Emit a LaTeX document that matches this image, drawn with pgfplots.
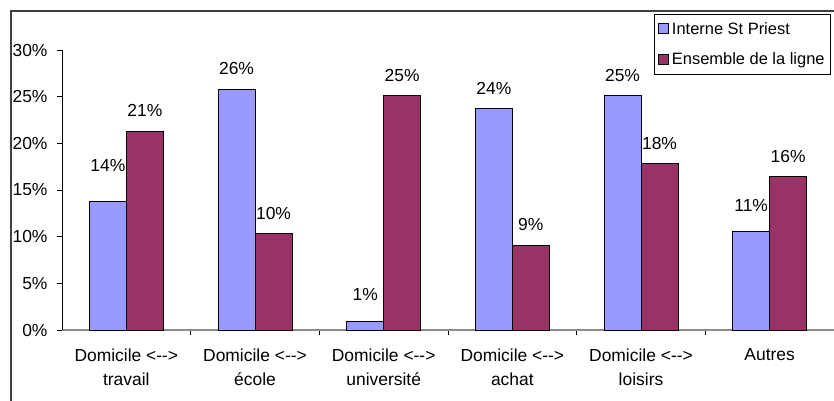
\documentclass[border=0pt]{standalone}
\usepackage{pgfplots}
\pgfplotsset{compat=1.18}
\usepackage{pgfplotstable}
\usepackage{fontspec}
\setmainfont{Liberation Sans}
\definecolor{interne}{RGB}{153,153,255}
\definecolor{ensemble}{RGB}{153,51,102}

% x = categorie, y = part (%), s = decalage de l'etiquette (bp)
\pgfplotstableread{
x y s
0 13.8 29
1 25.8 14
2 0.86 21
3 23.7 14
4 25.1 14
5 10.6 19
}\interne
\pgfplotstableread{
x y s
0 21.3 14
1 10.3 14
2 25.1 14
3 9.1 14
4 17.8 14
5 16.4 14
}\ensemble

\begin{document}
\begin{tikzpicture}[x=1bp,y=1bp]
\useasboundingbox (0,0) rectangle (834,400);
\draw[line width=1.3bp, black!75] (11,-5) -- (11,389) -- (845,389);
\begin{axis}[
  at={(62bp,70bp)}, anchor=south west,
  scale only axis, width=772bp, height=280bp,
  xmin=-0.5, xmax=5.5, ymin=0, ymax=30,
  ybar=0pt, bar width=37bp,
  axis lines=left,
  axis line style={-},
  x axis line style={draw=gray!90, line width=1.2bp},
  y axis line style={draw=black, line width=0.8bp},
  tick align=outside,
  major tick length=5bp, minor tick length=5bp,
  ytick={0,5,...,30},
  yticklabel={\pgfmathprintnumber{\tick}\%},
  y tick style={draw=black, line width=0.6bp},
  xtick={0,...,5},
  xticklabels={{Domicile <-{}->\\travail},{Domicile <-{}->\\école},{Domicile <-{}->\\université},{Domicile <-{}->\\achat},{Domicile <-{}->\\loisirs},{Autres}},
  major x tick style={draw=none},
  minor xtick={0.5,1.5,2.5,3.5,4.5},
  minor x tick style={draw=black, line width=0.6bp},
  /pgf/number format/assume math mode=true,
  tick label style={font=\fontsize{17.5}{24}\selectfont},
  xticklabel style={align=center, anchor=north, yshift=-10bp},
  yticklabel style={anchor=east, xshift=-6bp},
  nodes near coords={\pgfmathprintnumber[fixed,precision=0]{\pgfplotspointmeta}\%},
  every node near coord/.append style={font=\fontsize{17.5}{24}\selectfont, inner sep=0pt, anchor=south, black},
  visualization depends on={\thisrow{s}\as\lshift},
  every node near coord/.append style={yshift=\lshift bp},
  legend cell align=left,
  legend style={at={(axis description cs:0.7668,1.1286)}, anchor=north west,
    draw=black, fill=white, font=\fontsize{16.5}{20}\selectfont,
    inner xsep=4bp, inner ysep=6bp, row sep=13bp, column sep=1bp},
  legend image code/.code={\draw[#1, draw=black, line width=0.8bp] (0bp,-5bp) rectangle (10bp,5bp);},
]
\addplot[fill=interne, draw=black, line width=1bp] table[x=x,y=y] {\interne};
\addplot[fill=ensemble, draw=black, line width=1bp] table[x=x,y=y] {\ensemble};
\legend{Interne St Priest, Ensemble de la ligne}
\end{axis}
\end{tikzpicture}
\end{document}
